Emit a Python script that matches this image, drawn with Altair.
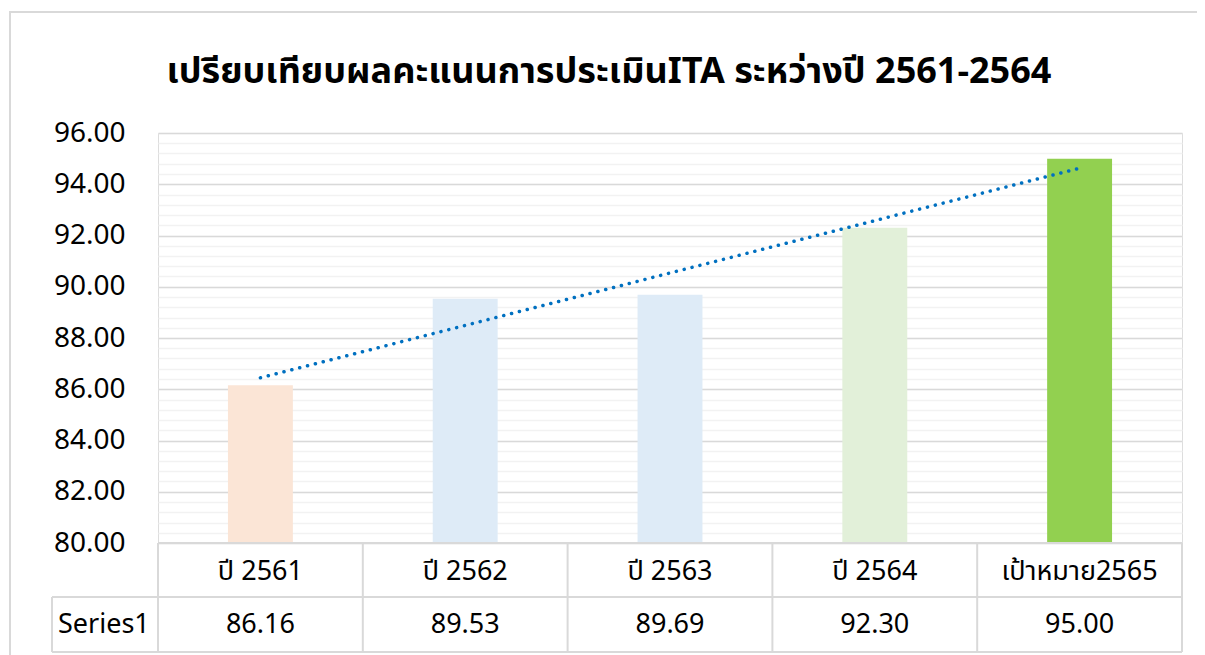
import altair as alt
import pandas as pd
import numpy as np

# ---------------- data ----------------
categories = ["ปี 2561", "ปี 2562", "ปี 2563", "ปี 2564", "เป้าหมาย2565"]
values = [86.16, 89.53, 89.69, 92.30, 95.00]
value_labels = ["86.16", "89.53", "89.69", "92.30", "95.00"]
bar_colors = ["#FBE5D6", "#DEEBF7", "#DEEBF7", "#E2F0D9", "#92D050"]
series_name = "Series1"
title_text = "เปรียบเทียบผลคะแนนการประเมินITA ระหว่างปี 2561-2564"
y_major = [80, 82, 84, 86, 88, 90, 92, 94, 96]
y_minor = [round(80 + 0.4 * i, 1) for i in range(41)]

# ---------------- layout ----------------
W, H = 1024, 410
PAD_L, PAD_T = 150, 125
TOTAL_W, TOTAL_H = 1189, 647
FONT = "Noto Sans Thai, Noto Sans, Tahoma, sans-serif"
FS = 27
step = W / len(categories)
row1_c = 439   # centre of category row (view coords)
row_mid = 464
row2_c = 492
row_bot = 519
left_cell = -106

df = pd.DataFrame({
    "cat": categories,
    "val": values,
    "label": value_labels,
    "color": bar_colors,
    "idx": list(range(1, len(categories) + 1)),
})

slope, intercept = np.polyfit(df["idx"], df["val"], 1)
trend = pd.DataFrame({
    "cat": [categories[0], categories[-1]],
    "val": [intercept + slope * df["idx"].iloc[0], intercept + slope * df["idx"].iloc[-1]],
})

x_scale = alt.Scale(domain=categories, paddingInner=0.683, paddingOuter=0.3415)
y_scale = alt.Scale(domain=[80, 96], nice=False, zero=False)

def xe():
    return alt.X("cat:N", sort=categories, scale=x_scale, axis=None)

minor_grid = alt.Chart(df).mark_bar(opacity=0).encode(
    x=xe(),
    y=alt.Y("val:Q", scale=y_scale, axis=alt.Axis(
        values=y_minor, grid=True, gridColor="#F2F2F2", gridWidth=1.3,
        labels=False, ticks=False, domain=False, title=None, orient="left")),
)

bars = alt.Chart(df).mark_bar().encode(
    x=xe(),
    y=alt.Y("val:Q", scale=y_scale, axis=alt.Axis(
        values=y_major, format=".2f", grid=True, gridColor="#D9D9D9", gridWidth=1.3,
        ticks=False, domain=False, title=None, orient="left",
        labelFont=FONT, labelFontSize=28, labelColor="#000000",
        labelPadding=33)),
    y2=alt.datum(80),
    color=alt.Color("color:N", scale=None),
)

trend_line = alt.Chart(trend).mark_line(
    color="#0070C0", strokeWidth=3.5, strokeDash=[0.1, 8], strokeCap="round"
).encode(
    x=xe(),
    y=alt.Y("val:Q", scale=y_scale, axis=None),
)

cat_text = alt.Chart(df).mark_text(
    font=FONT, fontSize=FS, color="#000000", baseline="middle", align="center"
).encode(x=xe(), y=alt.value(row1_c), text="cat:N")

value_text = alt.Chart(df).mark_text(
    font=FONT, fontSize=FS, color="#000000", baseline="middle", align="center"
).encode(x=xe(), y=alt.value(row2_c), text="label:N")

one = pd.DataFrame({"t": [series_name]})
series_text = alt.Chart(one).mark_text(
    font=FONT, fontSize=FS, color="#000000", baseline="middle", align="left"
).encode(x=alt.value(left_cell + 6), y=alt.value(row2_c), text="t:N")

title_mark = alt.Chart(pd.DataFrame({"t": [title_text]})).mark_text(
    font=FONT, fontSize=36, fontWeight="bold", color="#000000",
    baseline="middle", align="center"
).encode(x=alt.value(609 - 158), y=alt.value(72 - 133), text="t:N")

LINE = "#D9D9D9"
def hrule(x1, x2, y):
    return alt.Chart(one).mark_rule(color=LINE, strokeWidth=2).encode(
        x=alt.value(x1), x2=alt.value(x2), y=alt.value(y))

def vrule(x, y1, y2):
    return alt.Chart(one).mark_rule(color=LINE, strokeWidth=2).encode(
        x=alt.value(x), y=alt.value(y1), y2=alt.value(y2))

table = [hrule(0, W, H), hrule(left_cell, W, row_mid), hrule(left_cell, W, row_bot),
         vrule(left_cell, row_mid, row_bot)]
for i in range(len(categories) + 1):
    table.append(vrule(i * step, H, row_bot))

frame = alt.Chart(one).mark_rect(fill="transparent", stroke="#D9D9D9", strokeWidth=2).encode(
    x=alt.value(10 - 8 - PAD_L), x2=alt.value(W + 200),
    y=alt.value(12 - 8 - PAD_T), y2=alt.value(H + 300),
)

chart = alt.layer(
    frame, minor_grid, bars, trend_line, cat_text, value_text, series_text, title_mark, *table
).resolve_axis(y="independent").properties(
    width=W, height=H,
    autosize=alt.AutoSizeParams(type="none"),
    padding={"left": PAD_L, "top": PAD_T, "right": TOTAL_W - PAD_L - W, "bottom": TOTAL_H - PAD_T - H},
).configure_view(stroke=None).configure(background="#FFFFFF")

chart.save("out.html", embed_options={"renderer": "svg", "actions": False})
